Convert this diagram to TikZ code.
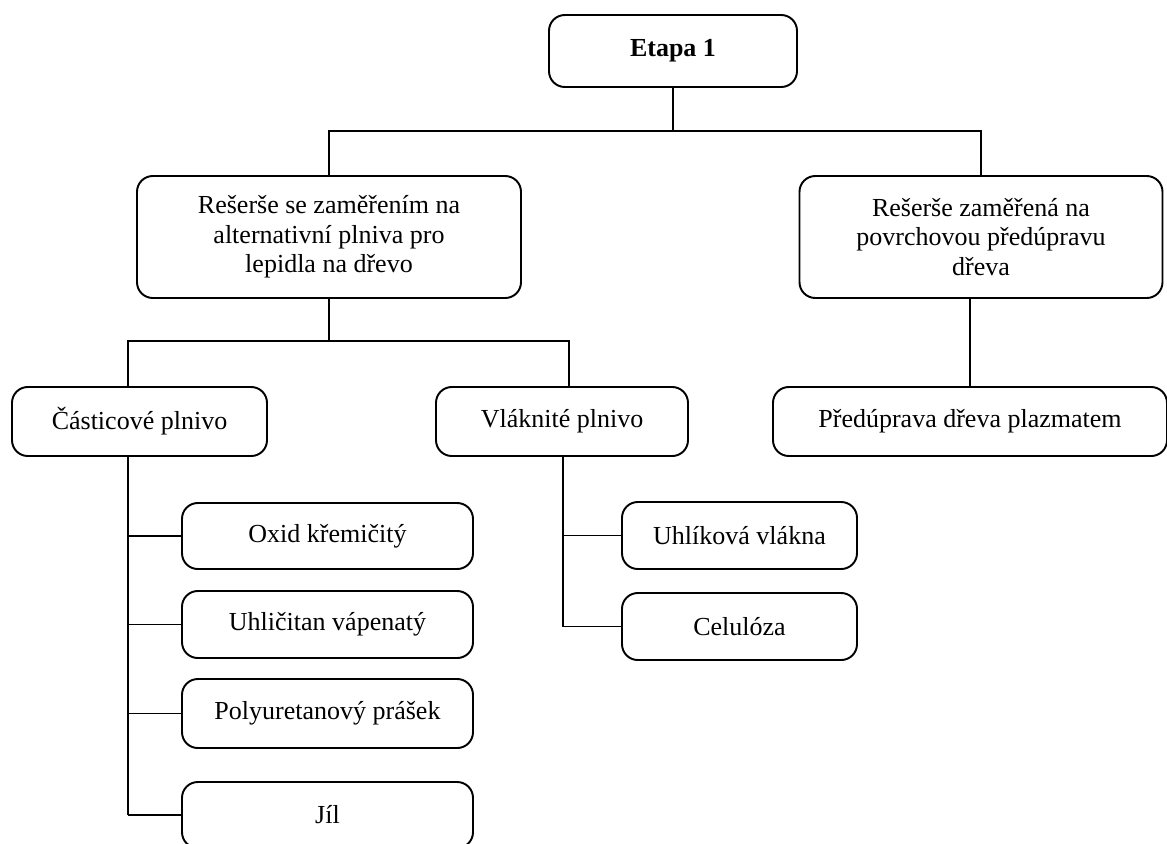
\documentclass[tikz,border=0pt]{standalone}
\usepackage{fontspec}
\setmainfont{Liberation Serif}

\tikzset{
  krok/.style={draw, rounded corners=9pt, line width=1.1pt, align=center,
    inner sep=0pt, font=\fontsize{14.8}{16.8}\selectfont},
  spoj/.style={line width=1.1pt}
}

\begin{document}
\begin{tikzpicture}[x=0.02cm, y=-0.02cm]
\useasboundingbox (0,0) rectangle (1167,843);
% horni uroven
\path (673,51) node[krok, minimum width=248*0.02cm, minimum height=72*0.02cm] (etapa) {\textbf{Etapa 1}};
\path (329,237) node[krok, minimum width=384*0.02cm, minimum height=122*0.02cm] (resA) {Rešerše se zaměřením na\\alternativní plniva pro\\lepidla na dřevo};
\path (981,237) node[krok, minimum width=363*0.02cm, minimum height=122*0.02cm] (resB) {Rešerše zaměřená na\\povrchovou předúpravu\\dřeva};
% plniva
\path (139.5,421.5) node[krok, minimum width=255*0.02cm, minimum height=69*0.02cm] (cast) {Částicové plnivo};
\path (562,421.5) node[krok, minimum width=252*0.02cm, minimum height=69*0.02cm] (vlak) {Vláknité plnivo};
\path (970,421.5) node[krok, minimum width=394*0.02cm, minimum height=69*0.02cm] (pred) {Předúprava dřeva plazmatem};
% castice
\path (327.5,536) node[krok, minimum width=291*0.02cm, minimum height=66*0.02cm] (oxid) {Oxid křemičitý};
\path (327.5,624.5) node[krok, minimum width=291*0.02cm, minimum height=67*0.02cm] (uhlic) {Uhličitan vápenatý};
\path (327.5,713.5) node[krok, minimum width=291*0.02cm, minimum height=69*0.02cm] (poly) {Polyuretanový prášek};
\path (327.5,815) node[krok, minimum width=291*0.02cm, minimum height=66*0.02cm] (jil) {Jíl};
% vlakna
\path (739.5,535.5) node[krok, minimum width=235*0.02cm, minimum height=67*0.02cm] (uhlik) {Uhlíková vlákna};
\path (739.5,626.5) node[krok, minimum width=235*0.02cm, minimum height=67*0.02cm] (celu) {Celulóza};

\coordinate (t1) at (673,131);
\coordinate (k1) at (128,341);
\coordinate (k2) at (569,341);
\coordinate (k3) at (563,456);

\draw[spoj] (etapa.south) -- (t1);
\draw[spoj] (resA.north) |- (t1) -| (resB.north);
\draw[spoj] (resA.south) -- (resA.south |- k1);
\draw[spoj] (k1 |- cast.north) -- (k1) -- (k2) -- (k2 |- vlak.north);
\draw[spoj] (resB.south -| pred.north) -- (pred.north);
\draw[spoj] (k1 |- cast.south) -- (k1 |- jil.west);
\foreach \n in {oxid, uhlic, poly, jil}
  \draw[spoj] (k1 |- \n.west) -- (\n.west);
\draw[spoj] (k3) -- (k3 |- celu.west);
\foreach \n in {uhlik, celu}
  \draw[spoj] (k3 |- \n.west) -- (\n.west);
\end{tikzpicture}
\end{document}
